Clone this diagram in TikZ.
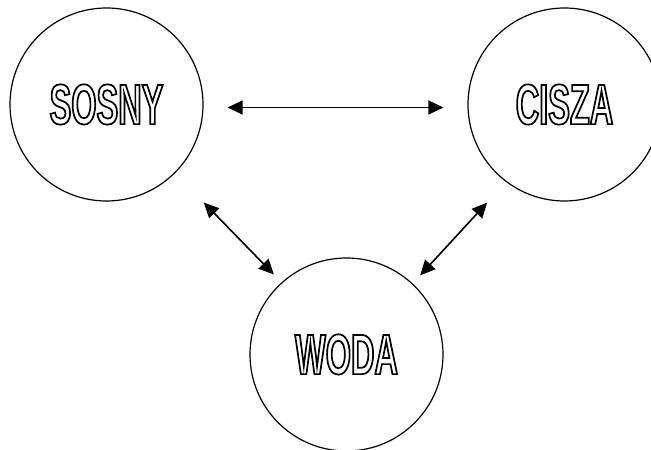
\documentclass[tikz,border=0pt]{standalone}
\usepackage{fontspec}
\usepackage{tikz}
\usetikzlibrary{arrows.meta}
\newfontfamily\wordfont[FakeStretch=0.57]{Liberation Sans}
% hollow letters: stroke the glyph outlines only
\newcommand\hollow[1]{\special{pdf:literal direct 1 Tr 1.7 w}#1\special{pdf:literal direct 0 Tr}}

\begin{document}
\begin{tikzpicture}[
  x=1pt, y=1pt,
  link/.style={{Triangle[length=15pt,width=14pt]}-{Triangle[length=15pt,width=14pt]}, line width=1.6pt},
  bubble/.style={circle, draw, line width=1.2pt, minimum size=193pt, inner sep=0pt,
    font=\wordfont\bfseries\fontsize{57}{57}\selectfont}
]
\useasboundingbox (0,0) rectangle (651,450);
\node[bubble] (sosny) at (106.5,345.5) {\hollow{SOSNY}};
\node[bubble] (cisza) at (564.5,345.5) {\hollow{CISZA}};
\node[bubble] (woda) at (346.5,95.5) {\hollow{WODA}};
\draw[link, shorten <=24pt, shorten >=24pt] ([yshift=-3pt]sosny.east) -- ([yshift=-3pt]cisza.west);
\draw[link, shorten <=41pt, shorten >=11pt] (sosny.-45) -- (woda.132);
\draw[link, shorten <=28pt, shorten >=11pt] (cisza.-127) -- (woda.47);
\end{tikzpicture}
\end{document}
